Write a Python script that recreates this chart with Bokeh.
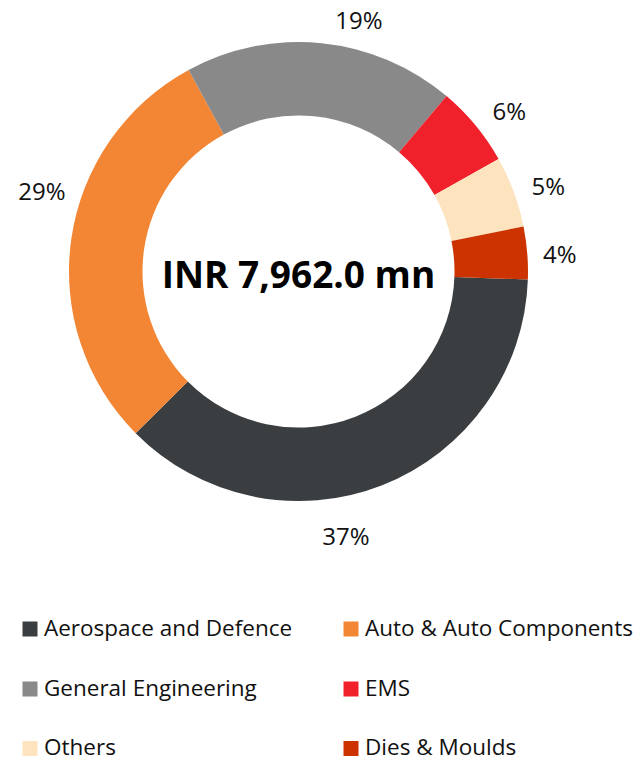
import math
from bokeh.plotting import figure
from bokeh.models import Range1d, ColumnDataSource
from bokeh.core.properties import value
from bokeh.embed import file_html
from bokeh.resources import INLINE

# ---- data ----
categories = ["Aerospace and Defence", "Auto & Auto Components", "General Engineering",
              "EMS", "Others", "Dies & Moulds"]
shares = [37.0, 29.5, 19.1, 5.7, 5.0, 3.7]
share_labels = ["37%", "29%", "19%", "6%", "5%", "4%"]
colors = ["#3B3E41", "#F28634", "#898989", "#F0212A", "#FDE4BE", "#CC3300"]
center_label = "INR 7,962.0 mn"

# ---- layout ----
W, H = 641, 763
FONT = "Open Sans"
start_deg = -2.0           # first slice starts just below 3 o'clock, runs clockwise
r_outer, r_inner = 229.5, 156.0
label_r = [268, 269, 259, 265, 264, 262]
label_nudge_deg = [-11.2, -9.2, -7.7, -2.3, -1.4, -0.8]

p = figure(width=W, height=H, output_backend="svg", toolbar_location=None,
           x_range=Range1d(-298, W - 298), y_range=Range1d(271 - H, 271),
           min_border=0)
p.axis.visible = False
p.grid.visible = False
p.outline_line_color = None
p.background_fill_color = "white"
p.border_fill_color = "white"

total = sum(shares)
starts, ends, lx, ly = [], [], [], []
cur = math.radians(start_deg)
for i, s in enumerate(shares):
    span = 2 * math.pi * s / total
    a_end = cur
    a_start = cur - span
    starts.append(a_start)
    ends.append(a_end)
    mid = (a_start + a_end) / 2 + math.radians(label_nudge_deg[i])
    lx.append(label_r[i] * math.cos(mid))
    ly.append(label_r[i] * math.sin(mid))
    cur = a_start

src = ColumnDataSource(dict(start=starts, end=ends, color=colors,
                            lx=lx, ly=ly, lab=share_labels))
p.annular_wedge(x=0, y=0, inner_radius=r_inner, outer_radius=r_outer,
                start_angle="start", end_angle="end", direction="anticlock",
                fill_color="color", line_color=None, source=src)

p.text(x="lx", y="ly", text="lab", source=src, text_font=value(FONT),
       text_font_size="24px", text_color="#111111",
       text_align="center", text_baseline="middle")

p.text(x=[0], y=[-2], text=[center_label], text_font=value(FONT),
       text_font_size="37px", text_font_style="bold", text_color="#000000",
       text_align="center", text_baseline="middle")

# ---- legend (manual, two columns) ----
col_x = [-268.5, 52.5]
row_y = [-357.5, -417.5, -477]
sq_x, sq_y, sq_c, tx, ty = [], [], [], [], []
for i, c in enumerate(categories):
    r, k = divmod(i, 2)
    sq_x.append(col_x[k])
    sq_y.append(row_y[r])
    sq_c.append(colors[i])
    tx.append(col_x[k] + 14)
    ty.append(row_y[r] + 2)
p.scatter(x=sq_x, y=sq_y, marker="square", size=15, fill_color=sq_c, line_color=None)
p.text(x=tx, y=ty, text=categories, text_font=value(FONT), text_font_size="22.5px",
       text_color="#111111", text_align="left", text_baseline="middle")

open("out.html", "w").write(file_html(p, INLINE))
